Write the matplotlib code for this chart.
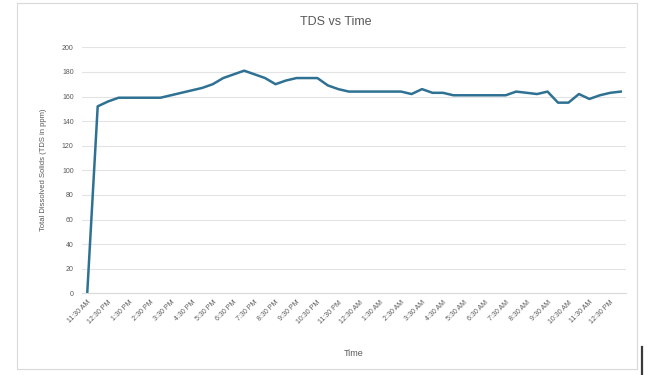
import matplotlib
matplotlib.use("Agg")
import matplotlib.pyplot as plt
from matplotlib.patches import Rectangle
from matplotlib.lines import Line2D

plt.rcParams['font.family'] = ['Liberation Sans Narrow', 'Liberation Sans', 'DejaVu Sans']

# Half-hourly readings, 11:30 AM through 1:00 PM the next day
tick_labels = [
    "11:30 AM", "12:30 PM", "1:30 PM", "2:30 PM", "3:30 PM", "4:30 PM",
    "5:30 PM", "6:30 PM", "7:30 PM", "8:30 PM", "9:30 PM", "10:30 PM",
    "11:30 PM", "12:30 AM", "1:30 AM", "2:30 AM", "3:30 AM", "4:30 AM",
    "5:30 AM", "6:30 AM", "7:30 AM", "8:30 AM", "9:30 AM", "10:30 AM",
    "11:30 AM", "12:30 PM",
]
tds_ppm = [
    0, 152, 156, 159, 159, 159, 159, 159, 161, 163,
    165, 167, 170, 175, 178, 181, 178, 175, 170, 173,
    175, 175, 175, 169, 166, 164, 164, 164, 164, 164,
    164, 162, 166, 163, 163, 161, 161, 161, 161, 161,
    161, 164, 163, 162, 164, 155, 155, 162, 158, 161,
    163, 164,
]
y_ticks = [0, 20, 40, 60, 80, 100, 120, 140, 160, 180, 200]

W, H = 649, 375
fig = plt.figure(figsize=(W / 100, H / 100), dpi=100)
fig.patch.set_facecolor("white")

# Chart frame
fig.add_artist(Rectangle((17 / W, 1 - 369 / H), 620 / W, 366 / H,
                         transform=fig.transFigure, fill=False,
                         edgecolor="#D9D9D9", linewidth=0.8))
fig.add_artist(Line2D([642 / W, 642 / W], [0, 1 - 347 / H],
                      transform=fig.transFigure, color="#3A3A3A", linewidth=1.6))

ax = fig.add_axes([82 / W, 1 - 293.3 / H, 544 / W, 246 / H])
x = list(range(len(tds_ppm)))
ax.plot(x, tds_ppm, color="#2F7192", linewidth=1.8, solid_joinstyle="round")

ax.set_xlim(-0.5, len(tds_ppm) - 0.5)
ax.set_ylim(0, 200)
ax.set_yticks(y_ticks)
ax.set_yticklabels([str(v) for v in y_ticks], fontsize=5, color="#595959")
ax.set_xticks(x[::2][:len(tick_labels)])
ax.set_xticklabels(tick_labels, fontsize=5, color="#595959", rotation=45,
                   ha="right", rotation_mode="anchor")
ax.tick_params(axis="both", length=0, pad=6)
ax.tick_params(axis="x", pad=4)

ax.grid(axis="y", color="#E3E3E3", linewidth=0.8)
ax.set_axisbelow(True)
for side in ["top", "right", "left"]:
    ax.spines[side].set_visible(False)
ax.spines["bottom"].set_color("#D9D9D9")
ax.spines["bottom"].set_linewidth(0.8)

ax.set_ylabel("Total Dissolved Solids (TDS in ppm)", fontsize=5.5,
              color="#595959", labelpad=11)
ax.set_xlabel("Time", fontsize=6.5, color="#595959", labelpad=17)
fig.text(336 / W, 1 - 22 / H, "TDS vs Time", fontsize=9, color="#595959",
         ha="center", va="center")

fig.savefig("out.png", dpi=100)
